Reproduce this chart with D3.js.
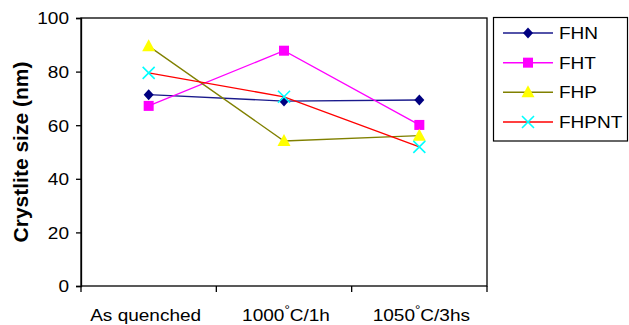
<!DOCTYPE html>
<html><head><meta charset="utf-8">
<script src="https://cdn.jsdelivr.net/npm/d3@7"></script>
<style>body{margin:0;background:#fff}svg{display:block}text{font-family:Arial,"Liberation Sans",sans-serif;fill:#000}</style>
</head><body>
<svg id="c" width="629" height="325"></svg>
<script>
const categories = ["As quenched", "1000°C/1h", "1050°C/3hs"];
const seriesNames = ["FHN", "FHT", "FHP", "FHPNT"];
const FHN = [71.4, 69.0, 69.4];
const FHT = [67.2, 87.8, 60.1];
const FHP = [89.5, 54.1, 56.1];
const FHPNT = [79.5, 70.6, 51.9];
const yTicks = [0, 20, 40, 60, 80, 100];

const series = [
  {name: "FHN", values: FHN, line: "#1a1a8c", fill: "#000080", marker: "diamond"},
  {name: "FHT", values: FHT, line: "#ff00ff", fill: "#ff00ff", marker: "square"},
  {name: "FHP", values: FHP, line: "#808000", fill: "#ffff00", marker: "triangle"},
  {name: "FHPNT", values: FHPNT, line: "#ff0000", fill: "#00ffff", marker: "x"}
];

const SX = 1.12;
const svg = d3.select("#c");
const L = 81, R = 487, T = 18, B = 286;
const x = d3.scaleBand().domain(categories).range([L, R]).padding(0);
const y = d3.scaleLinear().domain([0, 100]).range([B, T]);

function stext(g, px, py, anchor, size) {
  return g.append("text").attr("transform", `translate(${px},${py}) scale(${SX},1)`)
    .attr("text-anchor", anchor).attr("font-size", size);
}

// frame
svg.append("rect").attr("x", L).attr("y", T).attr("width", R - L).attr("height", B - T)
  .attr("fill", "none").attr("stroke", "#000").attr("stroke-width", 1.3);

// y axis (scale for ticks), labels drawn with stretch
const ya = svg.append("g").attr("transform", `translate(${L},0)`)
  .call(d3.axisLeft(y).tickValues(yTicks).tickSize(5).tickFormat(""));
ya.select(".domain").attr("stroke-width", 1.3);
ya.selectAll(".tick line").attr("stroke-width", 1.3);
const yl = svg.append("g");
yTicks.forEach(t => stext(yl, 69, y(t) + 6.3, "end", 17).text(t));

// x axis ticks at band boundaries
const bounds = categories.map(c => x(c)).concat([R]);
svg.append("g").selectAll("line").data(bounds).join("line")
  .attr("x1", d => d).attr("x2", d => d).attr("y1", B).attr("y2", B + 6)
  .attr("stroke", "#000").attr("stroke-width", 1.3);

const cx = c => x(c) + x.bandwidth() / 2;
// x labels with superscript degree
const xl = svg.append("g");
categories.forEach((c, i) => {
  const t = stext(xl, cx(c) + (i === 0 ? -3 : 2), 321, "middle", 17);
  const parts = c.split("°");
  if (parts.length > 1) {
    t.append("tspan").text(parts[0]);
    t.append("tspan").text("°").attr("dy", -7).attr("font-size", 12);
    t.append("tspan").text(parts[1]).attr("dy", 7);
  } else t.text(c);
});

// y title
svg.append("text").attr("transform", `translate(28,${(T + B) / 2}) rotate(-90)`)
  .attr("text-anchor", "middle").attr("font-size", 21).attr("font-weight", "bold")
  .text("Crystlite size (nm)");

function drawMarker(g, type, fill, px, py) {
  if (type === "diamond") {
    g.append("path").attr("d", `M${px},${py-5.5}L${px+5},${py}L${px},${py+5.5}L${px-5},${py}Z`).attr("fill", fill);
  } else if (type === "square") {
    g.append("rect").attr("x", px - 5).attr("y", py - 5).attr("width", 10).attr("height", 10).attr("fill", fill);
  } else if (type === "triangle") {
    g.append("path").attr("d", `M${px},${py-7}L${px+6.5},${py+5}L${px-6.5},${py+5}Z`).attr("fill", fill);
  } else {
    g.append("path").attr("d", `M${px-6},${py-6}L${px+6},${py+6}M${px+6},${py-6}L${px-6},${py+6}`)
      .attr("stroke", fill).attr("stroke-width", 1.6).attr("fill", "none");
  }
}

const line = d3.line().x((d, i) => cx(categories[i])).y(d => y(d));
series.forEach(s => {
  const g = svg.append("g");
  g.append("path").attr("d", line(s.values)).attr("fill", "none").attr("stroke", s.line).attr("stroke-width", 1.3);
  s.values.forEach((v, i) => drawMarker(g, s.marker, s.fill, cx(categories[i]), y(v)));
});

// legend
const lg = svg.append("g");
lg.append("rect").attr("x", 493.5).attr("y", 17.5).attr("width", 134).attr("height", 123.5)
  .attr("fill", "#fff").attr("stroke", "#000").attr("stroke-width", 1.2);
const ly = d3.scalePoint().domain(seriesNames).range([33, 122]);
series.forEach(s => {
  const yy = ly(s.name);
  lg.append("line").attr("x1", 503).attr("x2", 553).attr("y1", yy).attr("y2", yy)
    .attr("stroke", s.line).attr("stroke-width", 1.5);
  drawMarker(lg, s.marker, s.fill, 528, yy);
  stext(lg, 559, yy + 6, "start", 17).text(s.name);
});
</script>
</body></html>
